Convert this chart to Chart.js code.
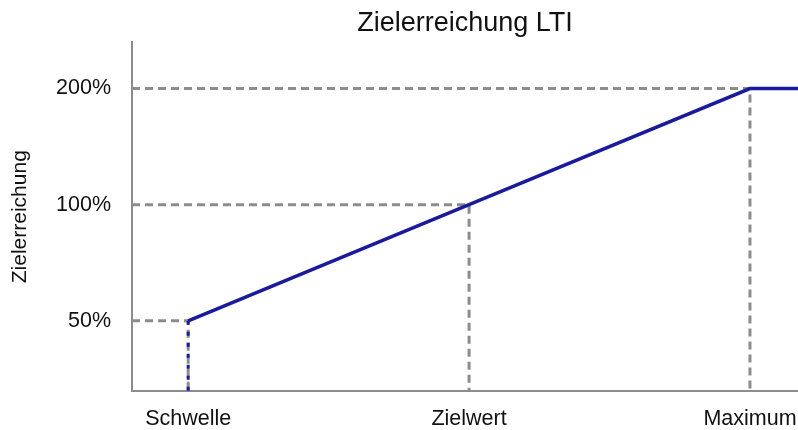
<!DOCTYPE html>
<html>
<head>
<meta charset="utf-8">
<script src="https://cdn.jsdelivr.net/npm/chart.js@4/dist/chart.umd.min.js"></script>
<style>
  html,body{margin:0;padding:0;background:#fff;}
  #wrap{width:798px;height:430px;}
</style>
</head>
<body>
<div id="wrap"><canvas id="c"></canvas></div>
<script>
// data
const levels = ['Schwelle', 'Zielwert', 'Maximum'];
const levelPos = [0, 1, 2];
const zielerreichung = [50, 100, 200];
const yTicks = [50, 100, 200];

const X_MIN = -0.2, X_MAX = 2.171;
const Y_MIN = 32.9, Y_MAX = 263.4;
const BLUE = '#1a1a9e', GREY = '#8c8c8c';
const FONT = 'Liberation Sans, Arial, sans-serif';

// main curve, flat after Maximum up to the chart edge
const curve = levelPos.map((x, i) => ({x: x, y: zielerreichung[i]}));
curve.push({x: X_MAX, y: zielerreichung[zielerreichung.length - 1]});

const datasets = [
  {data: curve, borderColor: BLUE, borderWidth: 3.5},
  {data: [{x: levelPos[0], y: zielerreichung[0]}, {x: levelPos[0], y: Y_MIN}],
   borderColor: BLUE, borderWidth: 3, borderDash: [4, 7]}
];
levelPos.forEach((x, i) => {
  const v = zielerreichung[i];
  datasets.push({data: [{x: X_MIN, y: v}, {x: x, y: v}, {x: x, y: Y_MIN}],
    borderColor: GREY, borderWidth: 3, borderDash: [8, 5]});
});
datasets.forEach(d => { d.pointRadius = 0; d.fill = false; d.tension = 0; });

new Chart(document.getElementById('c'), {
  type: 'line',
  data: {datasets: datasets},
  options: {
    responsive: true, maintainAspectRatio: false, animation: false,
    layout: {padding: 0},
    plugins: {
      legend: {display: false}, tooltip: {enabled: false},
      title: {display: true, fullSize: false, text: 'Zielerreichung LTI', color: '#111',
        font: {family: FONT, size: 27, weight: 'normal'}, padding: {top: 7, bottom: 3}}
    },
    scales: {
      x: {
        type: 'linear', min: X_MIN, max: X_MAX,
        afterBuildTicks: s => { s.ticks = levelPos.map(v => ({value: v})); },
        afterFit: s => { s.height = 39; s.paddingLeft = 0; s.paddingRight = 0; },
        grid: {display: false, drawTicks: false},
        border: {display: true, color: GREY, width: 2},
        ticks: {padding: 15, color: '#111', font: {family: FONT, size: 21.5},
          autoSkip: false, maxRotation: 0,
          callback: v => levels[levelPos.indexOf(v)] || ''}
      },
      y: {
        type: 'logarithmic', min: Y_MIN, max: Y_MAX,
        afterBuildTicks: s => { s.ticks = yTicks.map(v => ({value: v})); },
        afterFit: s => { s.width = 132; s.paddingTop = 0; s.paddingBottom = 0; },
        grid: {display: false, drawTicks: false},
        border: {display: true, color: GREY, width: 2},
        title: {display: true, text: 'Zielerreichung', color: '#111',
          font: {family: FONT, size: 21}, padding: {top: 8, bottom: 0}},
        ticks: {padding: 21, color: '#111', font: {family: FONT, size: 21.5},
          callback: v => v + '%'}
      }
    }
  }
});
</script>
</body>
</html>
